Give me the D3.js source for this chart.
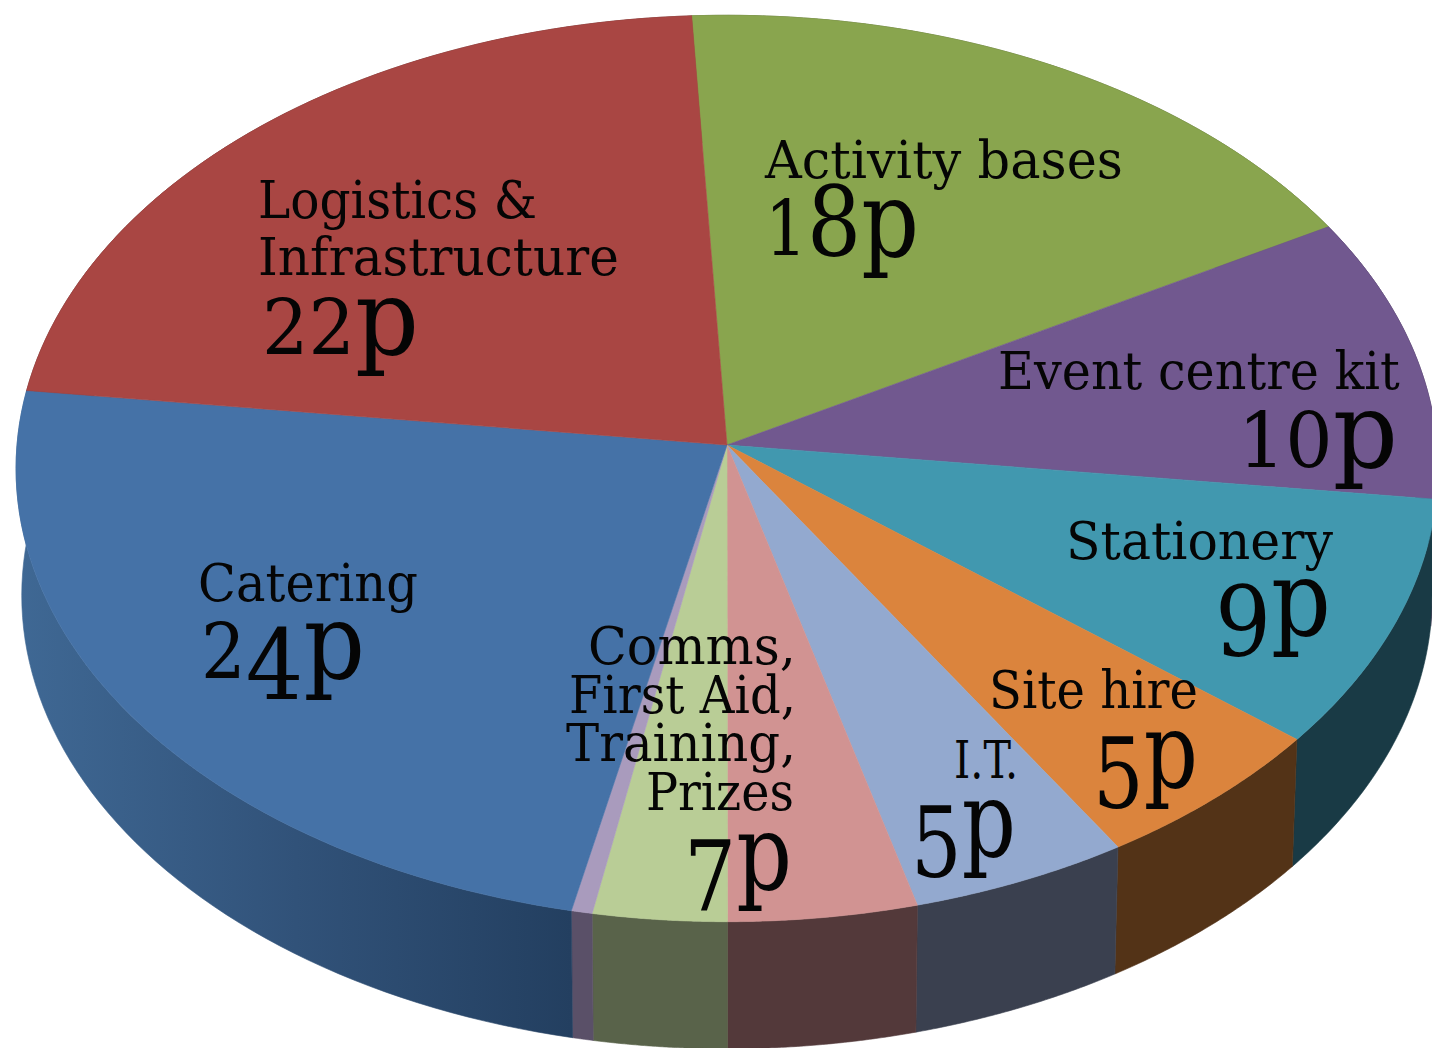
<!DOCTYPE html>
<html><head><meta charset="utf-8">
<script src="https://cdn.jsdelivr.net/npm/d3@7"></script>
<style>html,body{margin:0;padding:0;background:#fff;overflow:hidden}svg{display:block}</style>
</head><body><svg id="c" width="1432" height="1048"></svg>
<script>
const categories=["Activity bases","Event centre kit","Stationery","Site hire","I.T.","Prizes","Training","Comms","Catering","Logistics & Infrastructure"];
const values=[17.5,10.1,8.9,5.3,4.7,4.07,2.88,0.45,23.48,22.12];
const topColors=["#89a54e","#71588f","#4198af","#db843d","#93a9cf","#d19392","#b9cd96","#a99bbd","#4572a7","#a94643"];
const wallColors=["#4a5c2a","#3a2c4c","#193a45","#533317","#3a404f","#53393a","#59634a","#5a5068","url(#wallBlue)","#5a2422"];

// label layout: text, left edge, width, baseline
const nameLines=[
 ["Logistics &",258,279,218],["Infrastructure",258,361,275],
 ["Activity bases",765,358,178],["Event centre kit",998,402,389],
 ["Stationery",1066,267,559],["Site hire",989,209,708],["I.T.",954,64,778],
 ["Catering",198,220,601],
 ["Comms,",588,208,664],["First Aid,",569,227,713],["Training,",566,230,761],["Prizes",646,148,810]];
const amountLines=[
 ["22p",262,157,354],["18p",765,154,256],["10p",1238,160,467],["9p",1215,116,635],
 ["5p",1093,105,787],["5p",911,105,856],["24p",201,164,678],["7p",684,108,889]];

const apex=[727,445], B=710, A=452, K=0.0518, depth=127, shrink=0.992;
// perspective view of a unit disc: s across, u toward the viewer
const project=a=>{const s=Math.sin(a),u=-Math.cos(a),w=1-K*u;
  return [apex[0]+B*s/w, apex[1]+A*u/w];};
const lower=p=>[apex[0]+(p[0]-apex[0])*shrink,p[1]+depth];
const startA=-3*Math.PI/180;
const pie=d3.pie().sort(null).startAngle(startA).endAngle(startA+2*Math.PI);
const arcs=pie(values);
const samples=d=>d3.range(0,61).map(i=>d.startAngle+(d.endAngle-d.startAngle)*i/60);
const line=d3.line();

const svg=d3.select("#c");
const grad=svg.append("defs").append("linearGradient").attr("id","wallBlue")
  .attr("gradientUnits","userSpaceOnUse").attr("x1",20).attr("x2",572).attr("y1",0).attr("y2",0);
grad.append("stop").attr("offset",0).attr("stop-color","#3f6894");
grad.append("stop").attr("offset",0.5).attr("stop-color","#315279");
grad.append("stop").attr("offset",1).attr("stop-color","#233f60");

svg.append("g").selectAll("path").data(arcs).join("path")
  .attr("d",d=>{const t=samples(d).map(project);return line(t.concat(t.map(lower).reverse()))+"Z";})
  .attr("fill",(d,i)=>wallColors[i])
  .attr("stroke",(d,i)=>wallColors[i]).attr("stroke-width",0.6);

svg.append("g").selectAll("path").data(arcs).join("path")
  .attr("d",d=>line([apex].concat(samples(d).map(project)))+"Z")
  .attr("fill",(d,i)=>topColors[i])
  .attr("stroke",(d,i)=>topColors[i]).attr("stroke-width",0.6);

const font="'DejaVu Serif','Liberation Serif',serif";
function fit(t,x,w,y){
  const len=t.node().getComputedTextLength();
  t.attr("transform",`translate(${x},${y}) scale(${w/len},1)`);
}
const txt=svg.append("g").attr("fill","#050505").attr("font-family",font);
nameLines.forEach(([s,x,w,y])=>{
  const t=txt.append("text").attr("font-size",52).text(s);
  fit(t,x,w,y);
});
// old-style numerals: 0,1,2 sit at x-height, 4,5,7,9 hang below the line
const small="012", hang="4579";
amountLines.forEach(([s,x,w,y])=>{
  const t=txt.append("text").attr("font-size",104);
  let off=0;
  [...s].forEach(c=>{
    const want=hang.includes(c)?21:0;
    t.append("tspan").attr("dy",want-off)
     .attr("font-size",small.includes(c)?76:c==="p"?104:98).text(c);
    off=want;
  });
  fit(t,x,w,y);
});
</script></body></html>
